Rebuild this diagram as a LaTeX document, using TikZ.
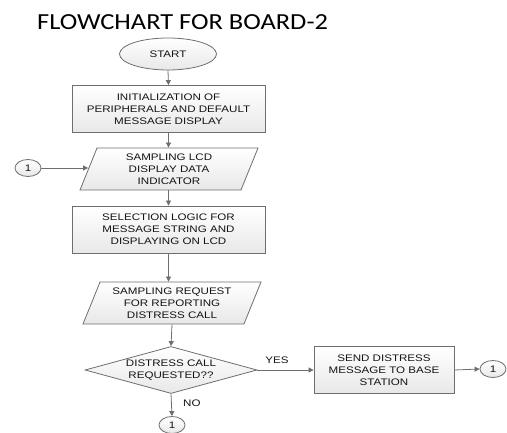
\documentclass[tikz,border=0pt]{standalone}
\usepackage{fontspec}
\setmainfont[FakeStretch=1.22]{Liberation Sans}
\newfontfamily\titlefont[FakeStretch=1.15]{Carlito}
\usetikzlibrary{shapes.geometric,arrows.meta}
\definecolor{edgegray}{RGB}{110,110,110}
\definecolor{txtgray}{RGB}{20,20,20}
\tikzset{
  base/.style={draw=edgegray, line width=0.8pt, top color=white, bottom color=gray!18,
    text=txtgray, font=\fontsize{9.5}{12}\selectfont, align=center, inner sep=0pt},
  procbox/.style={base, rectangle, minimum width=#1, minimum height=47pt},
  iobox/.style={base, trapezium, trapezium left angle=61, trapezium right angle=119,
    trapezium stretches body, minimum width=178pt, minimum height=42pt},
  decbox/.style={base, diamond, aspect=3.6, minimum width=172pt, minimum height=47pt},
  termbox/.style={base, ellipse, minimum width=97pt, minimum height=32pt},
  conn/.style={base, ellipse, minimum width=26pt, minimum height=17pt},
  flow/.style={draw=edgegray, line width=0.8pt, -{Triangle[length=5pt,width=5pt]}},
  lbl/.style={text=txtgray, font=\fontsize{9.5}{11}\selectfont}
}
\begin{document}
\begin{tikzpicture}[x=1pt,y=-1pt]
\useasboundingbox (0,0) rectangle (507,433);
\node[anchor=west, inner sep=0pt, font=\titlefont\fontsize{23}{26}\selectfont] (title) at (37,22) {FLOWCHART FOR BOARD-2};
\node[termbox] (start) at (168,54) {START};
\node[procbox=193pt] (init) at (168.5,109) {INITIALIZATION OF\\PERIPHERALS AND DEFAULT\\MESSAGE DISPLAY};
\node[iobox] (samp1) at (169,169) {SAMPLING LCD\\DISPLAY DATA\\INDICATOR};
\node[conn] (c1) at (28,168) {1};
\node[procbox=193pt] (sel) at (168.5,229.5) {SELECTION LOGIC FOR\\MESSAGE STRING AND\\DISPLAYING ON LCD};
\node[iobox] (samp2) at (172,303) {SAMPLING REQUEST\\FOR REPORTING\\DISTRESS CALL};
\node[decbox] (dec) at (171,370) {DISTRESS CALL\\REQUESTED??};
\node[procbox=140pt] (send) at (384,370) {SEND DISTRESS\\MESSAGE TO BASE\\STATION};
\node[conn] (c2) at (493,369) {1};
\node[conn] (c3) at (172,425) {1};
\draw[flow] (start.south) -- (init.north);
\draw[flow] (init.south) -- (init.south |- samp1.north);
\draw[flow] (c1.east) -- (samp1.west |- c1.east);
\draw[flow] (samp1.south -| sel.north) -- (sel.north);
\draw[flow] (sel.south) -- (sel.south |- samp2.north);
\draw[flow] (samp2.south) -- (dec.north);
\draw[flow] (dec.east) -- node[lbl, above, pos=0.35, yshift=3pt] (yes) {YES} (send.west);
\draw[flow] (send.east) -- (c2.west);
\draw[flow] (dec.south) -- node[lbl, right, pos=0.4, xshift=8pt] (no) {NO} (c3.north);
\end{tikzpicture}
\end{document}
